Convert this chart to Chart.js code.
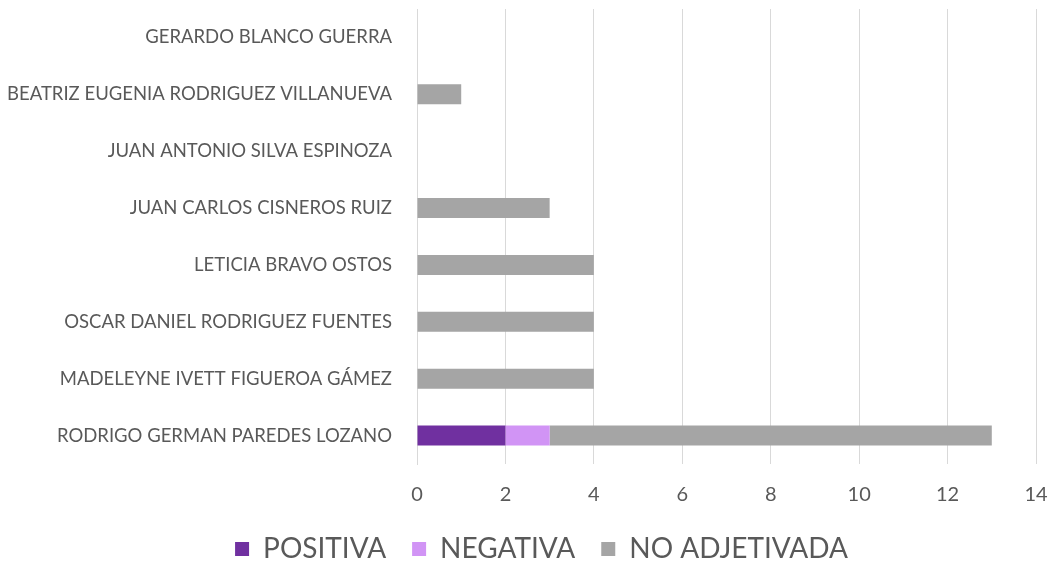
<!DOCTYPE html>
<html>
<head>
<meta charset="utf-8">
<script src="https://cdn.jsdelivr.net/npm/chart.js@4/dist/chart.umd.min.js"></script>
<style>
  html, body { margin: 0; padding: 0; background: #fff; }
  #wrap { width: 1051px; height: 561px; }
</style>
</head>
<body>
<div id="wrap"><canvas id="myChart"></canvas></div>
<script>
const names = [
  "GERARDO BLANCO GUERRA",
  "BEATRIZ EUGENIA RODRIGUEZ VILLANUEVA",
  "JUAN ANTONIO SILVA ESPINOZA",
  "JUAN CARLOS CISNEROS RUIZ",
  "LETICIA BRAVO OSTOS",
  "OSCAR DANIEL RODRIGUEZ FUENTES",
  "MADELEYNE IVETT FIGUEROA GÁMEZ",
  "RODRIGO GERMAN PAREDES LOZANO"
];
const positiva = [0, 0, 0, 0, 0, 0, 0, 2];
const negativa = [0, 0, 0, 0, 0, 0, 0, 1];
const noAdjetivada = [0, 1, 0, 3, 4, 4, 4, 10];
const xTicks = [0, 2, 4, 6, 8, 10, 12, 14];

const font = "Lato, 'Open Sans', sans-serif";
const grey = "#595959";

new Chart(document.getElementById("myChart"), {
  type: "bar",
  data: {
    labels: names,
    datasets: [
      { label: "POSITIVA", data: positiva, backgroundColor: "#7030A0" },
      { label: "NEGATIVA", data: negativa, backgroundColor: "#D194F5" },
      { label: "NO ADJETIVADA", data: noAdjetivada, backgroundColor: "#A5A5A5" }
    ]
  },
  options: {
    indexAxis: "y",
    responsive: true,
    maintainAspectRatio: false,
    animation: false,
    barPercentage: 0.35,
    categoryPercentage: 1,
    // negative right padding only widens the legend box so it centres a bit further right;
    // the x axis paddingRight still keeps the plot edge at 1036
    layout: { padding: { top: 9, left: 0, right: -32, bottom: -12 } },
    scales: {
      x: {
        stacked: true,
        min: xTicks[0],
        max: xTicks[xTicks.length - 1],
        ticks: { stepSize: 2, color: grey, padding: 19, font: { family: font, size: 20 } },
        grid: { color: "#D9D9D9", drawTicks: false },
        border: { display: false },
        afterFit: (axis) => {
          axis.height = 45;
          axis.paddingLeft = 0;
          axis.paddingRight = 15;
          axis.paddingBottom = -12;
        }
      },
      y: {
        stacked: true,
        ticks: { color: grey, padding: 17, font: { family: font, size: 18.5 } },
        grid: { display: false },
        border: { color: "#D9D9D9" },
        afterFit: (axis) => {
          axis.width = 417;
          axis.paddingTop = 0;
          axis.paddingBottom = -12;
        }
      }
    },
    plugins: {
      legend: {
        position: "bottom",
        labels: {
          color: grey,
          boxWidth: 14,
          boxHeight: 14,
          padding: 26,
          font: { family: font, size: 28 }
        }
      },
      tooltip: { enabled: false }
    }
  }
});
</script>
</body>
</html>
